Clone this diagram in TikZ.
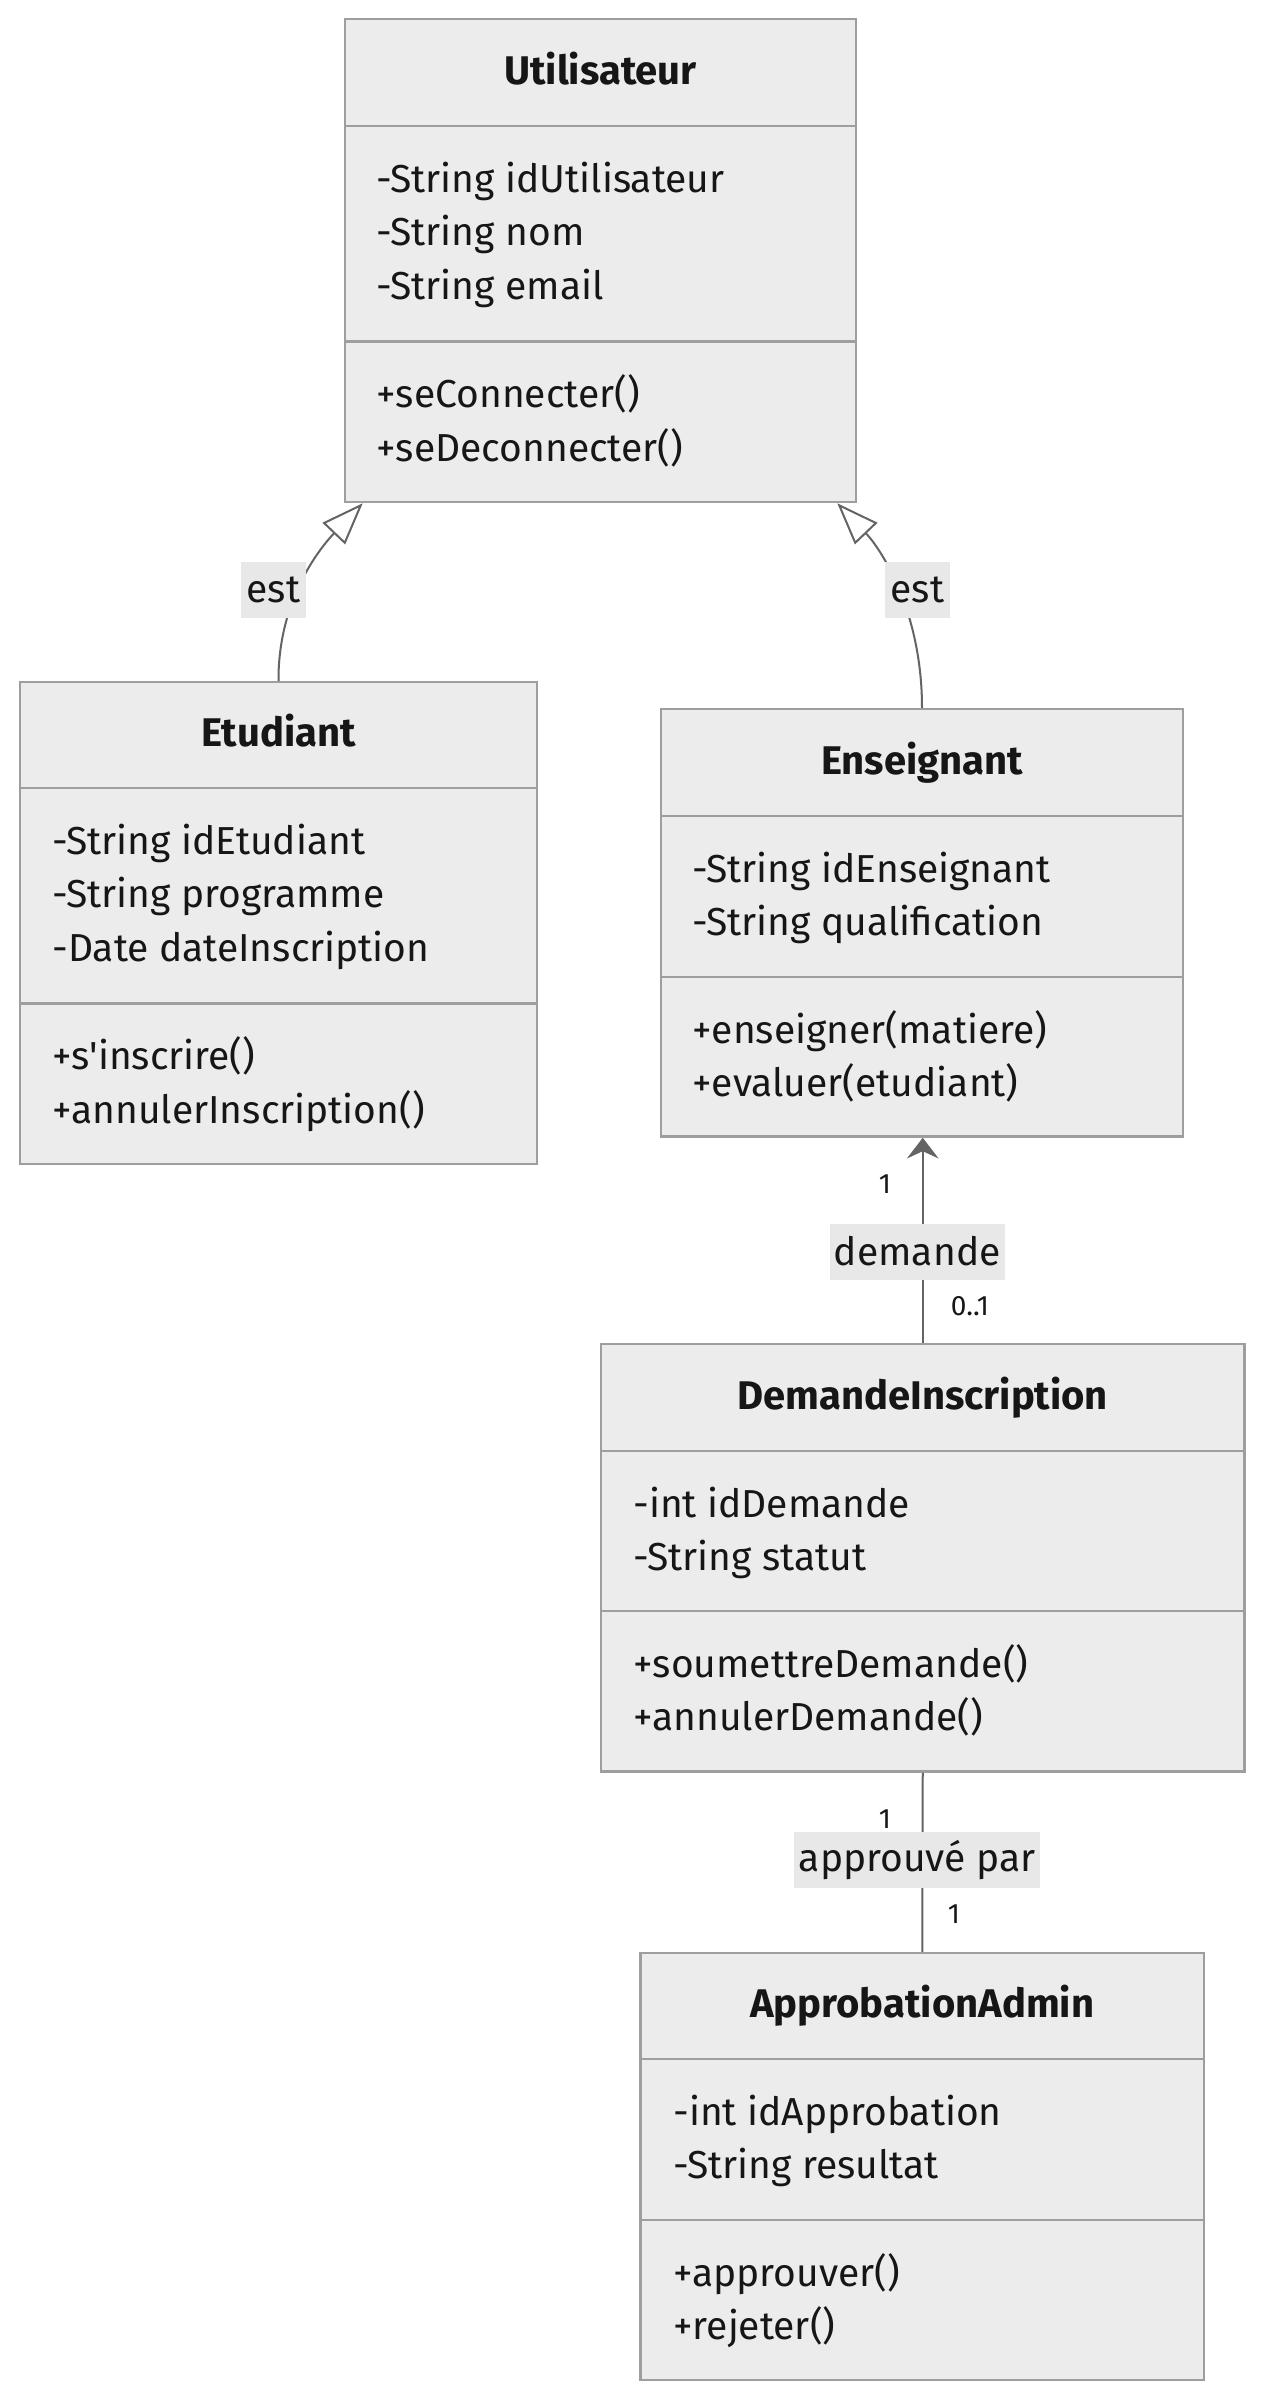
\documentclass[tikz,border=0pt]{standalone}
\usepackage{fontspec}
\newfontfamily\umlfont{Fira Sans}
\usetikzlibrary{arrows.meta,calc,fit}
\definecolor{boxfill}{RGB}{236,236,236}
\definecolor{boxline}{RGB}{158,158,158}
\definecolor{connc}{RGB}{100,100,100}
\definecolor{lblbg}{RGB}{232,232,232}
\definecolor{txt}{RGB}{22,22,22}
\begin{document}
\begin{tikzpicture}[x=0.5pt,y=-0.5pt,
  classbox/.style={draw=boxline, fill=boxfill, line width=1.25pt, inner sep=0pt},
  divider/.style={draw=boxline, line width=1.25pt},
  title/.style={font=\umlfont\fontsize{20pt}{24pt}\selectfont\bfseries, text=txt, inner sep=0pt, anchor=base},
  member/.style={font=\umlfont\fontsize{19.5pt}{23pt}\selectfont, text=txt, inner sep=0pt, anchor=base west},
  connector/.style={draw=connc, line width=1pt},
  elabel/.style={fill=lblbg, font=\umlfont\fontsize{19.5pt}{23pt}\selectfont, text=txt, inner xsep=2pt, inner ysep=0pt, minimum height=28pt},
  mult/.style={font=\umlfont\fontsize{14pt}{16pt}\selectfont, text=txt, inner sep=0pt},
]
\useasboundingbox (0,0) rectangle (1264,2400);

% ---------- Utilisateur ----------
\node[classbox, fit={(345,19)(856,502)}] (U) {};
\draw[divider] (345,126) -- (856,126);
\draw[divider] (345,341.5) -- (856,341.5);
\node[title] (Ut) at (600.5,84) {Utilisateur};
\node[member] (Ua1) at (376,192) {-String idUtilisateur};
\node[member] (Ua2) at (376,245.5) {-String nom};
\node[member] (Ua3) at (376,299) {-String email};
\node[member] (Um1) at (376,407.5) {+seConnecter()};
\node[member] (Um2) at (376,461) {+seDeconnecter()};

% ---------- Etudiant ----------
\node[classbox, fit={(20,682)(537,1164)}] (E) {};
\draw[divider] (20,788) -- (537,788);
\draw[divider] (20,1003.6) -- (537,1003.6);
\node[title] (Et) at (278.5,746.5) {Etudiant};
\node[member] (Ea1) at (52,854) {-String idEtudiant};
\node[member] (Ea2) at (52,907.5) {-String programme};
\node[member] (Ea3) at (52,961) {-Date dateInscription};
\node[member] (Em1) at (52,1069.6) {+s'inscrire()};
\node[member] (Em2) at (52,1123) {+annulerInscription()};

% ---------- Enseignant ----------
\node[classbox, fit={(661,709)(1183,1136.5)}] (N) {};
\draw[divider] (661,816) -- (1183,816);
\draw[divider] (661,977) -- (1183,977);
\node[title] (Nt) at (922,774) {Enseignant};
\node[member] (Na1) at (692,882) {-String idEnseignant};
\node[member] (Na2) at (692,935.5) {-String qualification};
\node[member] (Nm1) at (692,1043) {+enseigner(matiere)};
\node[member] (Nm2) at (692,1096.5) {+evaluer(etudiant)};

% ---------- DemandeInscription ----------
\node[classbox, fit={(601,1344)(1244.5,1771.5)}] (D) {};
\draw[divider] (601,1451) -- (1244.5,1451);
\draw[divider] (601,1611) -- (1244.5,1611);
\node[title] (Dt) at (922.75,1409) {DemandeInscription};
\node[member] (Da1) at (633,1517) {-int idDemande};
\node[member] (Da2) at (633,1570.5) {-String statut};
\node[member] (Dm1) at (633,1677) {+soumettreDemande()};
\node[member] (Dm2) at (633,1730.5) {+annulerDemande()};

% ---------- ApprobationAdmin ----------
\node[classbox, fit={(640.6,1953)(1204,2380)}] (A) {};
\draw[divider] (640.6,2059) -- (1204,2059);
\draw[divider] (640.6,2220) -- (1204,2220);
\node[title] (At) at (922.3,2017.5) {ApprobationAdmin};
\node[member] (Aa1) at (673,2125) {-int idApprobation};
\node[member] (Aa2) at (673,2178.5) {-String resultat};
\node[member] (Am1) at (673,2286) {+approuver()};
\node[member] (Am2) at (673,2339.5) {+rejeter()};

% ---------- connectors ----------
\draw[connector, -{Triangle[length=21pt,width=15.5pt,fill=white]}]
  (E.north) .. controls (278,600) and (320,548) .. ($(U.south west)+(19,0)$);
\draw[connector, -{Triangle[length=21pt,width=15.5pt,fill=white]}]
  (N.north) .. controls (922,610) and (880,548) .. ($(U.south east)+(-20,0)$);
\draw[connector, -{Stealth[length=10.35pt,width=15.8pt,inset=3.65pt]}]
  (D.north) -- (D.north |- N.south);
\draw[connector] (D.south) -- (A.north);

% ---------- labels ----------
\node[elabel, minimum width=32.5pt] (l1) at (273.5,589.5) {est};
\node[elabel, minimum width=32.5pt] (l2) at (917.5,589.5) {est};
\node[elabel, minimum width=86.75pt] (l3) at (917.25,1251.5) {demande};
\node[elabel, minimum width=123.2pt] (l4) at (917.2,1859.8) {approuvé par};

\node[mult] (m1) at (885,1184) {1};
\node[mult] (m2) at (970,1306.6) {0..1};
\node[mult] (m3) at (885,1819) {1};
\node[mult] (m4) at (954,1914) {1};
\end{tikzpicture}
\end{document}
